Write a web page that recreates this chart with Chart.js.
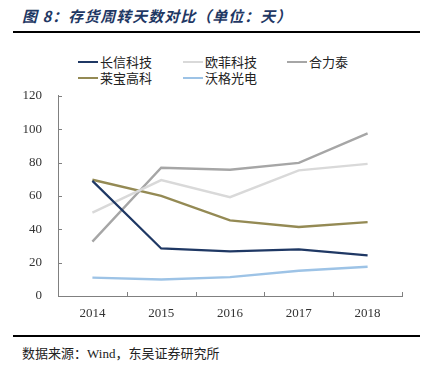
<!DOCTYPE html>
<html>
<head>
<meta charset="utf-8">
<script src="https://cdn.jsdelivr.net/npm/chart.js@4.4.0/dist/chart.umd.min.js"></script>
<style>
  body { margin: 0; background: #fff; }
  #wrap { position: relative; width: 423px; height: 377px; overflow: hidden; font-family: "Noto Sans CJK SC", sans-serif; }
  #title { position: absolute; left: 22px; top: 5px; font-size: 15px; font-weight: bold; color: #1F3864; font-style: italic; letter-spacing: 1px; }
  .rule { position: absolute; left: 13px; width: 407px; height: 2px; background: #000; }
  #legend { position: absolute; left: 0; top: 52px; width: 423px; font-size: 13px; color: #222; }
  .item { position: absolute; display: flex; align-items: center; }
  .item span.sw { display: inline-block; width: 20px; height: 2px; margin-right: 2px; }
  #source { position: absolute; left: 22px; top: 343px; font-size: 13px; color: #222; }
  #chartBox { position: absolute; left: 0; top: 80px; width: 423px; height: 240px; }
</style>
</head>
<body>
<div id="wrap">
  <div id="title">图 8：存货周转天数对比（单位：天）</div>
  <div class="rule" style="top:31px"></div>
  <div id="legend"></div>
  <div id="chartBox"><canvas id="c"></canvas></div>
  <div class="rule" style="top:335px"></div>
  <div id="source">数据来源：<span style="font-family:'Liberation Serif',serif">Wind</span>，东吴证券研究所</div>
</div>
<script>
const years = ['2014', '2015', '2016', '2017', '2018'];
const seriesNames = ['长信科技', '欧菲科技', '合力泰', '莱宝高科', '沃格光电'];
const changxin = [69, 28.5, 26.8, 28, 24.3];
const oufei = [50, 69.5, 59.2, 75.3, 79.2];
const helitai = [32.6, 76.9, 75.7, 79.8, 97.5];
const laibao = [69.7, 60, 45.3, 41.4, 44.3];
const woge = [11, 9.9, 11.3, 15.1, 17.5];
const yTicks = [0, 20, 40, 60, 80, 100, 120];

const colors = ['#1F3864', '#D9D9D9', '#A6A6A6', '#948A54', '#9DC3E6'];
const allData = [changxin, oufei, helitai, laibao, woge];

// legend laid out as a grid like the original
const legendPos = [[78, 0], [183, 0], [287, 0], [78, 16], [183, 16]];
const legend = document.getElementById('legend');
seriesNames.forEach((name, i) => {
    const el = document.createElement('div');
    el.className = 'item';
    el.style.left = legendPos[i][0] + 'px';
    el.style.top = legendPos[i][1] + 'px';
    el.innerHTML = '<span class="sw" style="background:' + colors[i] + '"></span>' + name;
    legend.appendChild(el);
});

// inward tick marks on both axes
const innerTicks = {
    id: 'innerTicks',
    afterDraw(chart) {
        const ctx = chart.ctx;
        const x = chart.scales.x, y = chart.scales.y;
        ctx.save();
        ctx.strokeStyle = '#808080';
        ctx.lineWidth = 1;
        ctx.beginPath();
        yTicks.forEach(v => {
            const py = Math.round(y.getPixelForValue(v)) + 0.5;
            ctx.moveTo(x.left, py);
            ctx.lineTo(x.left + 4, py);
        });
        for (let i = 0; i < years.length; i++) {
            const px = i < years.length - 1
                ? (x.getPixelForValue(i) + x.getPixelForValue(i + 1)) / 2
                : x.right;
            const pxr = Math.round(px) + 0.5;
            ctx.moveTo(pxr, y.bottom);
            ctx.lineTo(pxr, y.bottom - 4);
        }
        ctx.stroke();
        ctx.restore();
    }
};

new Chart(document.getElementById('c'), {
    type: 'line',
    data: {
        labels: years,
        datasets: seriesNames.map((name, i) => ({
            label: name,
            data: allData[i],
            borderColor: colors[i],
            backgroundColor: colors[i],
            borderWidth: i === 0 ? 2.2 : 2.4,
            pointRadius: 0,
            tension: 0,
            fill: false
        }))
    },
    options: {
        responsive: true,
        maintainAspectRatio: false,
        animation: false,
        layout: { padding: { top: 10, right: 21, left: 0, bottom: 0 } },
        plugins: { legend: { display: false }, tooltip: { enabled: false } },
        scales: {
            x: {
                offset: true,
                grid: { display: false },
                border: { display: true, color: '#808080', width: 1 },
                ticks: {
                    color: '#333',
                    font: { family: 'Liberation Serif', size: 13 },
                    maxRotation: 0,
                    padding: 2
                },
                afterFit: s => { s.height = 24; }
            },
            y: {
                min: 0,
                max: 120,
                grid: { display: false },
                border: { display: true, color: '#808080', width: 1 },
                ticks: {
                    stepSize: 20,
                    color: '#333',
                    font: { family: 'Liberation Serif', size: 13 },
                    padding: 8
                },
                afterFit: s => { s.width = 58; }
            }
        }
    },
    plugins: [innerTicks]
});
</script>
</body>
</html>
